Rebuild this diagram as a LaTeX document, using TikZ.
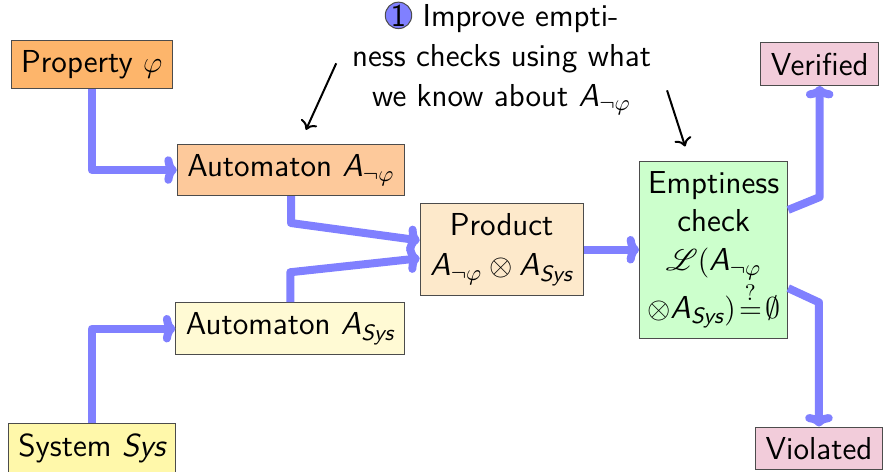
\documentclass[tikz,border=0pt]{standalone}
\usepackage{amsmath, amssymb}
\usepackage{mathrsfs}
\usepackage{tikz}
\usetikzlibrary{arrows.meta, positioning, calc}
\renewcommand{\familydefault}{\sfdefault}
\definecolor{flowblue}{RGB}{128, 128, 255}
\definecolor{proporange}{RGB}{253, 181, 107}
\definecolor{negorange}{RGB}{253, 201, 155}
\definecolor{prodorange}{RGB}{253, 233, 203}
\definecolor{sysyellow}{RGB}{255, 248, 170}
\definecolor{autyellow}{RGB}{255, 250, 212}
\definecolor{checkgreen}{RGB}{204, 255, 204}
\definecolor{resultpink}{RGB}{242, 204, 218}
\newcommand{\Aut}{\textit{A}}
\newcommand{\Sys}{\textit{Sys}}
\newcommand{\stepball}[1]{\tikz[baseline=(ball.base)]
    \node[circle, fill=flowblue, draw=black!70, inner sep=0pt, minimum size=10.5pt] (ball) {#1};}

\begin{document}
\begin{tikzpicture}[font=\fontsize{12.7}{16}\selectfont,
    box/.style={draw=black!70, inner sep=4pt, align=center},
    flow/.style={flowblue, line width=3.2pt, line join=round,
                 -{Computer Modern Rightarrow[length=5pt, width=11pt, round]}}]
    \useasboundingbox (0,0) rectangle (12.41,6.62);
    % inputs and automata
    \node[box, fill=proporange] (prop) at (1.29,5.71) {Property $\varphi$};
    \node[box, fill=negorange] (autneg) at (4.09,4.23) {Automaton $\Aut_{\neg\varphi}$};
    \node[box, fill=autyellow] (autsys) at (4.08,2.00) {Automaton $\Aut_{\Sys}$};
    \node[box, fill=sysyellow] (sys) at (1.29,0.32) {System $\Sys$};
    % product and check
    \node[box, fill=prodorange] (prod) at (7.05,3.11)
        {Product\\ $\Aut_{\neg\varphi}\otimes \Aut_{\Sys}$};
    \node[box, fill=checkgreen, inner xsep=3pt, font=\fontsize{12.7}{15.5}\selectfont] (empty) at (10.03,3.11)
        {Emptiness\\check\\ $\mathscr{L}(\Aut_{\neg\varphi}$\\ $\otimes\Aut_{\Sys})\!\stackrel{?}{=}\!\emptyset$};
    \node[box, fill=resultpink] (verified) at (11.52,5.72) {Verified};
    \node[box, fill=resultpink] (violated) at (11.51,0.32) {Violated};
    % remark
    \node[align=center] (note) at (7.05,5.80)
        {\stepball{1}\ Improve empti-\\ness checks using what\\we know about $\Aut_{\neg\varphi}$};

    \draw[flow] (prop.south) |- (autneg.west);
    \draw[flow] (sys.north) |- (autsys.west);
    \draw[flow] (autneg.south) -- ++(0,-0.38) -- ([yshift=0.13cm]prod.west);
    \draw[flow] (autsys.north) -- ++(0,0.42) -- ([yshift=-0.12cm]prod.west);
    \draw[flow] (prod) -- (empty);
    \draw[flow] ([yshift=0.56cm]empty.east) -- ([yshift=0.74cm]empty.east -| verified.south) -- (verified.south);
    \draw[flow] ([yshift=-0.54cm]empty.east) -- ([yshift=-0.74cm]empty.east -| violated.north) -- (violated.north);

    \draw[->, thick] ([xshift=-0.1cm,yshift=-0.07cm]note.west) -- ([xshift=0.21cm,yshift=0.2cm]autneg.north);
    \draw[->, thick] ([xshift=0.1cm,yshift=-0.45cm]note.east) -- ([xshift=-0.4cm,yshift=0.2cm]empty.north);
\end{tikzpicture}
\end{document}
